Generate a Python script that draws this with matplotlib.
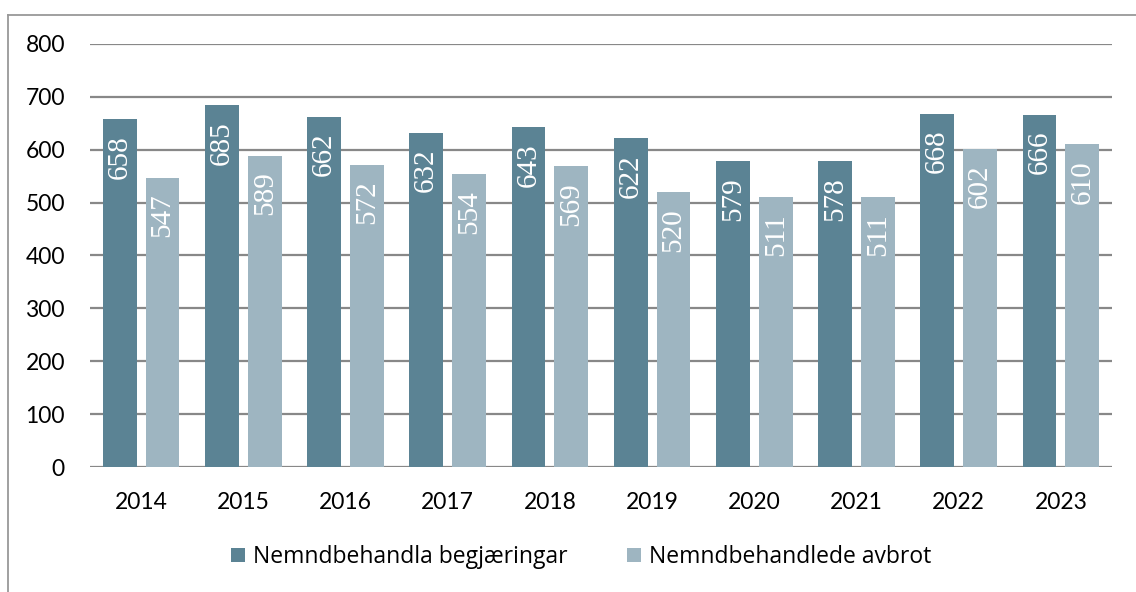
import numpy as np
import matplotlib
matplotlib.use("Agg")
import matplotlib.pyplot as plt
from matplotlib.lines import Line2D

years = ["2014", "2015", "2016", "2017", "2018", "2019", "2020", "2021", "2022", "2023"]
begjaeringar = [658, 685, 662, 632, 643, 622, 579, 578, 668, 666]
avbrot = [547, 589, 572, 554, 569, 520, 511, 511, 602, 610]
names = ["Nemndbehandla begjæringar", "Nemndbehandlede avbrot"]
colors = ["#5b8394", "#9eb5c1"]

plt.rcParams['font.family'] = ['Lato', 'DejaVu Sans']

fig = plt.figure(figsize=(11.36, 5.92), dpi=100)
ax = fig.add_axes([90/1136, 1-467/592, 1022/1136, 423/592])

x = np.arange(len(years))
w = 0.33
b1 = ax.bar(x - 0.21, begjaeringar, w, color=colors[0], label=names[0], zorder=3)
b2 = ax.bar(x + 0.21, avbrot, w, color=colors[1], label=names[1], zorder=3)

for bars in (b1, b2):
    for r in bars:
        h = r.get_height()
        ax.annotate(str(int(h)), (r.get_x() + r.get_width()/2, h),
                    xytext=(0, -11.5), textcoords='offset points', rotation=90,
                    ha='center', va='top', color='white', fontsize=21,
                    family='Liberation Serif', zorder=4)

ax.set_xlim(-0.5, len(years) - 0.5)
ax.set_ylim(0, 800)
ax.set_yticks(range(0, 801, 100))
ax.set_xticks(x)
ax.set_xticklabels(years)
ax.yaxis.grid(True, color='#888888', linewidth=1.6, zorder=0)
ax.tick_params(axis='both', length=0, labelsize=16.5, colors='black')
ax.tick_params(axis='y', pad=18)
ax.tick_params(axis='x', pad=18)
for s in ax.spines.values():
    s.set_visible(False)

leg = fig.legend(handles=[b1, b2], loc='center', bbox_to_anchor=(581/1136, 1-557/592),
                 ncol=2, frameon=False, handlelength=0.6, handleheight=0.6,
                 columnspacing=2.6, handletextpad=0.35,
                 prop={'family': 'Open Sans', 'size': 16.5})

# outer frame (top and left edges only)
fig.add_artist(Line2D([8/1136, 1], [1-15/592, 1-15/592], color='#999999', lw=1.3))
fig.add_artist(Line2D([8/1136, 8/1136], [0, 1-15/592], color='#999999', lw=1.3))

fig.savefig("out.png", dpi=100, facecolor='white')
